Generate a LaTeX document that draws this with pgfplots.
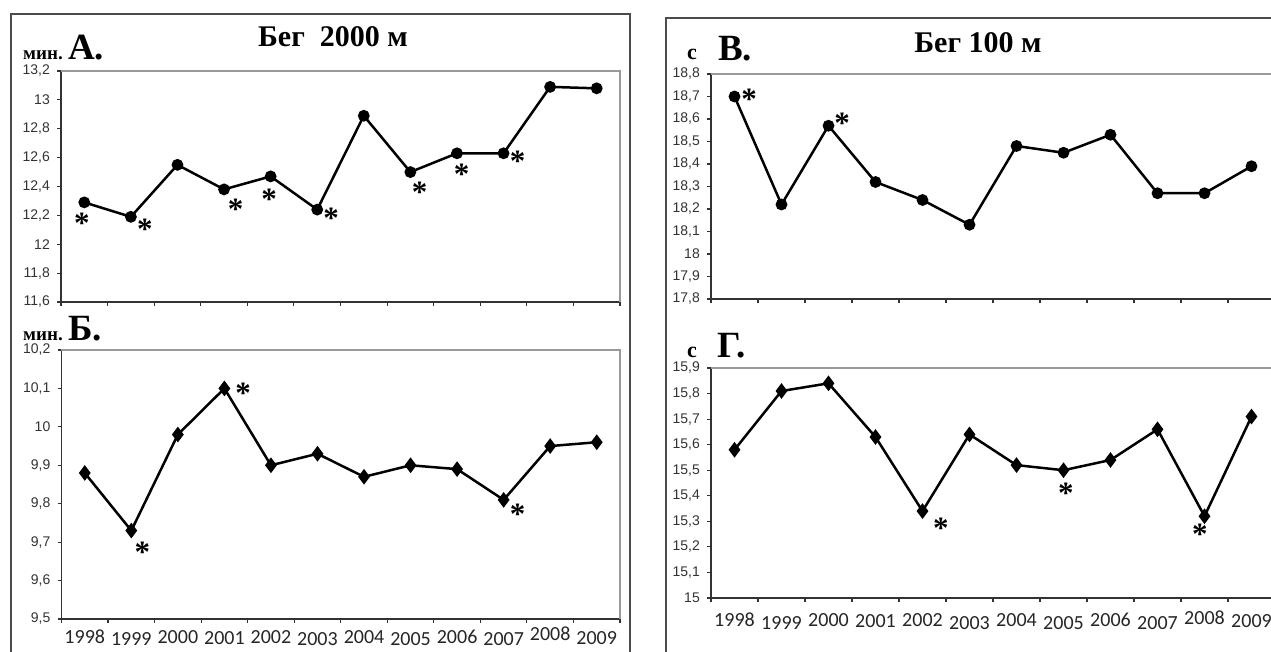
\documentclass[border=0pt]{standalone}
\usepackage{fontspec}
\setmainfont{Liberation Serif}
\newfontfamily\ticksans{Liberation Sans}
\newfontfamily\yearfont{Carlito}
\usepackage{pgfplots}
\pgfplotsset{compat=1.18}

\pgfplotsset{
 panel/.style={
  scale only axis, anchor=north west, clip=false,
  xmin=-0.5, xmax=11.5,
  axis x line*=bottom, axis y line*=left,
  axis line style={-, draw=black!80, line width=1.3pt},
  tick align=outside,
  xtick={0,...,11},
  major x tick style={draw=none},
  minor xtick={-0.5,0.5,...,11.5},
  major tick length=4pt, minor tick length=4pt,
  every tick/.style={black!80, line width=1.1pt},
  yticklabel style={font=\ticksans\fontsize{14}{14}\selectfont, text=black!80, inner sep=0pt, xshift=-7pt},
  /pgf/number format/assume math mode=true,
  /pgf/number format/use comma,
  xticklabels={},
 },
 circ/.style={black, line width=2.5pt, mark=*, mark size=4.6pt, mark options={solid}},
 diam/.style={black, line width=2.5pt, mark=diamond*, mark size=5.8pt, mark options={solid}},
 stars/.style={only marks, mark=text, text mark={*}, text mark as node=true,
   text mark style={font=\bfseries\fontsize{31}{31}\selectfont, inner sep=0pt, yshift=-4pt}},
 years/.style={xticklabels={1998,\raisebox{-3pt}{1999},2000,\raisebox{-2pt}{2001},2002,\raisebox{-3pt}{2003},2004,\raisebox{-3pt}{2005},2006,\raisebox{-3pt}{2007},\raisebox{2pt}{2008},\raisebox{-2pt}{2009}},
   xticklabel style={font=\yearfont\fontsize{20}{22}\selectfont, text=black!85, anchor=base, inner sep=0pt, yshift=#1}},
}
\newcommand\plotborder{\draw[black!40, line width=1.3pt] (rel axis cs:0,1) -- (rel axis cs:1,1) -- (rel axis cs:1,0);}

\begin{document}
\begin{tikzpicture}
\useasboundingbox (0,0) rectangle (1271pt,-652pt);
\fill[white] (0,0) rectangle (1271pt,-652pt);
% frames
\draw[black!70, line width=2pt] (11pt,-670pt) |- (630pt,-14pt) -- (630pt,-670pt);
\draw[black!70, line width=2pt] (666pt,-670pt) |- (1290pt,-18pt);

% Panel A
\begin{axis}[panel, at={(61pt,-71pt)}, width=559pt, height=231pt,
  ymin=11.6, ymax=13.2, ytick={11.6,11.8,12,12.2,12.4,12.6,12.8,13,13.2}]
\plotborder
\addplot[circ] coordinates {(0,12.29)(1,12.19)(2,12.55)(3,12.38)(4,12.47)(5,12.24)(6,12.89)(7,12.50)(8,12.63)(9,12.63)(10,13.09)(11,13.08)};
\addplot[stars] coordinates {(-0.05,12.17)(1.3,12.13)(3.25,12.27)(3.97,12.34)(5.3,12.21)(7.2,12.39)(8.1,12.51)(9.3,12.60)};
\end{axis}

% Panel Б
\begin{axis}[panel, years=-20pt, at={(61.5pt,-350pt)}, width=558.5pt, height=269pt,
  ymin=9.5, ymax=10.2, ytick={9.5,9.6,9.7,9.8,9.9,10,10.1,10.2}]
\plotborder
\addplot[diam] coordinates {(0,9.88)(1,9.73)(2,9.98)(3,10.10)(4,9.90)(5,9.93)(6,9.87)(7,9.90)(8,9.89)(9,9.81)(10,9.95)(11,9.96)};
\addplot[stars] coordinates {(1.24,9.685)(3.4,10.098)(9.3,9.784)};
\end{axis}

% Panel В
\begin{axis}[panel, at={(711pt,-74pt)}, width=564pt, height=225pt,
  ymin=17.8, ymax=18.8, ytick={17.8,17.9,18,18.1,18.2,18.3,18.4,18.5,18.6,18.7,18.8}]
\plotborder
\addplot[circ] coordinates {(0,18.70)(1,18.22)(2,18.57)(3,18.32)(4,18.24)(5,18.13)(6,18.48)(7,18.45)(8,18.53)(9,18.27)(10,18.27)(11,18.39)};
\addplot[stars] coordinates {(0.31,18.706)(2.29,18.60)};
\end{axis}

% Panel Г
\begin{axis}[panel, years=-24pt, at={(711pt,-368pt)}, width=564pt, height=230pt,
  ymin=15, ymax=15.9, ytick={15,15.1,15.2,15.3,15.4,15.5,15.6,15.7,15.8,15.9}]
\plotborder
\addplot[diam] coordinates {(0,15.58)(1,15.81)(2,15.84)(3,15.63)(4,15.34)(5,15.64)(6,15.52)(7,15.50)(8,15.54)(9,15.66)(10,15.32)(11,15.71)};
\addplot[stars] coordinates {(4.39,15.29)(7.05,15.427)(9.9,15.264)};
\end{axis}

% panel labels and titles
\node[anchor=base, font=\bfseries\fontsize{30}{30}\selectfont] at (333pt,-47pt) {Бег\ \ 2000 м};
\node[anchor=base, font=\bfseries\fontsize{30}{30}\selectfont] at (978pt,-53pt) {Бег 100 м};
\node[anchor=base west, inner sep=0pt, font=\bfseries\fontsize{19}{19}\selectfont] at (23pt,-60pt) {мин.};
\node[anchor=base west, inner sep=0pt, font=\bfseries\fontsize{37}{37}\selectfont] at (68pt,-60pt) {А.};
\node[anchor=base west, inner sep=0pt, font=\bfseries\fontsize{19}{19}\selectfont] at (23pt,-340pt) {мин.};
\node[anchor=base west, inner sep=0pt, font=\bfseries\fontsize{37}{37}\selectfont] at (68pt,-340pt) {Б.};
\node[anchor=base west, inner sep=0pt, font=\bfseries\fontsize{22}{22}\selectfont] at (687pt,-60pt) {с};
\node[anchor=base west, inner sep=0pt, font=\bfseries\fontsize{37}{37}\selectfont] at (718pt,-61pt) {В.};
\node[anchor=base west, inner sep=0pt, font=\bfseries\fontsize{22}{22}\selectfont] at (687pt,-357pt) {с};
\node[anchor=base west, inner sep=0pt, font=\bfseries\fontsize{37}{37}\selectfont] at (717pt,-357pt) {Г.};
\end{tikzpicture}
\end{document}
